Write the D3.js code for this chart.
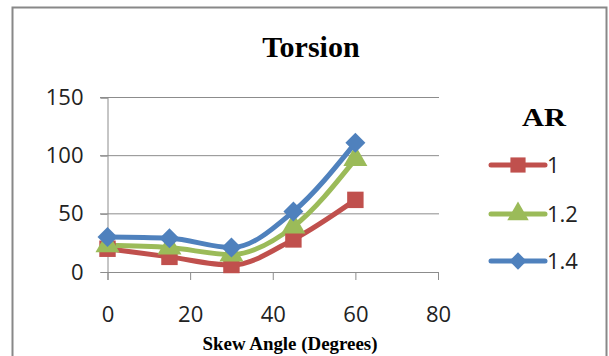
<!DOCTYPE html>
<html><head><meta charset="utf-8">
<script src="https://cdn.jsdelivr.net/npm/d3@7"></script>
<style>body{margin:0;background:#fff}svg{display:block}</style>
</head><body>
<svg id="c" width="609" height="356"></svg>
<script>
const skewAngles = [0, 15, 30, 45, 60];
const seriesNames = ["1", "1.2", "1.4"];
const ar1 = [20, 13, 6, 28, 62];
const ar12 = [23, 21, 15, 39, 97];
const ar14 = [30, 29, 21, 52, 111];
const xTicks = [0, 20, 40, 60, 80];
const yTicks = [0, 50, 100, 150];
const colors = ["#c0504d", "#9bbb59", "#4f81bd"];
const symbols = [d3.symbolSquare, d3.symbolTriangle, d3.symbolSquare];
const symRot = [0, 0, 45];

const svg = d3.select("#c");
// frame
svg.append("rect").attr("x", 12.5).attr("y", 7.5).attr("width", 594).attr("height", 360)
  .attr("fill", "#fff").attr("stroke", "#888").attr("stroke-width", 2);

const x = d3.scaleLinear().domain([0, 80]).range([107.5, 438]);
const y = d3.scaleLinear().domain([0, 150]).range([272, 97.5]);

// gridlines
svg.append("g").selectAll("line").data(yTicks.filter(d => d > 0)).join("line")
  .attr("x1", 100).attr("x2", 439).attr("y1", d => y(d)).attr("y2", d => y(d))
  .attr("stroke", "#8c8c8c").attr("stroke-width", 1);

// y axis
const yAxis = svg.append("g").attr("transform", "translate(107.5,0)")
  .call(d3.axisLeft(y).tickValues(yTicks).tickSize(7).tickPadding(17));
yAxis.select(".domain").attr("stroke", "#8c8c8c");
yAxis.selectAll(".tick line").attr("stroke", "#8c8c8c");
yAxis.selectAll("text").attr("font-family", "Open Sans, sans-serif").attr("font-size", 22).attr("fill", "#222");

// x axis
const xAxis = svg.append("g").attr("transform", "translate(0,272)")
  .call(d3.axisBottom(x).tickValues(xTicks).tickSize(8).tickPadding(26));
xAxis.select(".domain").attr("stroke", "#8c8c8c");
xAxis.selectAll(".tick line").attr("stroke", "#8c8c8c");
xAxis.selectAll("text").attr("font-family", "Open Sans, sans-serif").attr("font-size", 22).attr("fill", "#222");

// series
const allSeries = [ar1, ar12, ar14];
const line = d3.line().x((d, i) => x(skewAngles[i])).y(d => y(d)).curve(d3.curveMonotoneX);
const symSizes = [270, 250, 200];
allSeries.forEach((vals, k) => {
  svg.append("path").datum(vals).attr("d", line).attr("fill", "none")
    .attr("stroke", colors[k]).attr("stroke-width", 5).attr("stroke-linejoin", "round");
});
allSeries.forEach((vals, k) => {
  svg.append("g").selectAll("path").data(vals).join("path")
    .attr("transform", (d, i) => `translate(${x(skewAngles[i])},${y(d)}) rotate(${symRot[k]})`)
    .attr("d", d3.symbol().type(symbols[k]).size(symSizes[k]))
    .attr("fill", colors[k]);
});

// title
svg.append("text").attr("x", 311).attr("y", 57).attr("text-anchor", "middle")
  .attr("font-family", "Liberation Serif, serif").attr("font-weight", "bold").attr("font-size", 30)
  .text("Torsion");

// x axis title
svg.append("text").attr("x", 290).attr("y", 350).attr("text-anchor", "middle")
  .attr("font-family", "Liberation Serif, serif").attr("font-weight", "bold").attr("font-size", 18)
  .attr("textLength", 175).attr("lengthAdjust", "spacingAndGlyphs")
  .text("Skew Angle (Degrees)");

// legend
svg.append("text").attr("x", 544).attr("y", 126).attr("text-anchor", "middle")
  .attr("font-family", "Liberation Serif, serif").attr("font-weight", "bold").attr("font-size", 25)
  .attr("textLength", 44).attr("lengthAdjust", "spacingAndGlyphs")
  .text("AR");
const legY = [165, 214, 261];
const legSizes = [230, 200, 150];
seriesNames.forEach((name, k) => {
  const g = svg.append("g").attr("transform", `translate(0,${legY[k]})`);
  g.append("line").attr("x1", 491).attr("x2", 545).attr("y1", 0).attr("y2", 0)
    .attr("stroke", colors[k]).attr("stroke-width", 5).attr("stroke-linecap", "round");
  g.append("path").attr("transform", `translate(518,0) rotate(${symRot[k]})`)
    .attr("d", d3.symbol().type(symbols[k]).size(legSizes[k])).attr("fill", colors[k]);
  g.append("text").attr("x", 547).attr("y", 8).attr("font-family", "Open Sans, sans-serif")
    .attr("font-size", 22).attr("fill", "#222").text(name);
});
</script>
</body></html>
